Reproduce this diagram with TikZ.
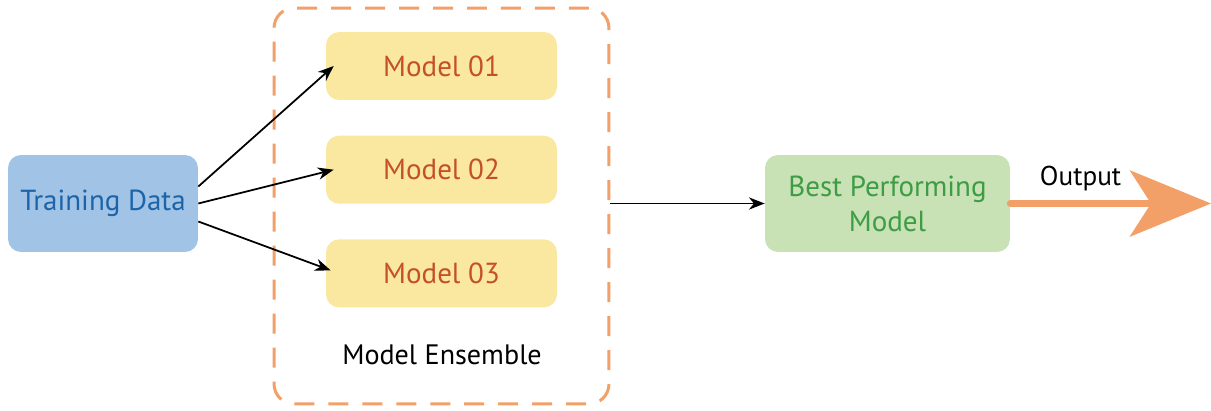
\documentclass[tikz,border=0pt]{standalone}
\usepackage{fontspec}
\setmainfont{PT Sans}
\usetikzlibrary{positioning,arrows.meta}

\definecolor{dataFill}{HTML}{A1C3E6}
\definecolor{dataText}{HTML}{1C64A8}
\definecolor{modelFill}{HTML}{FAE8A0}
\definecolor{modelText}{HTML}{C4502A}
\definecolor{bestFill}{HTML}{C8E1B5}
\definecolor{bestText}{HTML}{3D9C45}
\definecolor{ensOrange}{HTML}{F2A068}

\tikzset{
  box/.style={rounded corners=0.26cm, align=center, inner sep=2pt,
    font=\fontsize{16.5}{20}\selectfont},
  modelbox/.style={box, fill=modelFill, text=modelText,
    minimum width=4.62cm, minimum height=1.36cm},
}

\begin{document}
\begin{tikzpicture}[x=0.02cm, y=-0.02cm]

            \useasboundingbox (0,0) rectangle (1211,410);

            \node[box, fill=dataFill, text=dataText, minimum width=3.8cm, minimum height=1.94cm] (data) at (103,203.5) {Training Data};
            \node[modelbox] (m1) at (441.5,66) {Model 01};
            \node[modelbox, below=0.7cm of m1] (m2) {Model 02};
            \node[modelbox, below=0.7cm of m2] (m3) {Model 03};
            \node[draw=ensOrange, line width=1.7pt, dash pattern=on 0.4cm off 0.28cm, rounded corners=0.4cm, minimum width=6.7cm, minimum height=7.92cm] (ens) at (441.5,206) {};
            \node[font=\fontsize{16}{19}\selectfont] (enslabel) at (442,355) {Model Ensemble};
            \node[box, fill=bestFill, text=bestText, minimum width=4.9cm, minimum height=1.94cm] (best) at (887.5,203.5) {Best Performing\\Model};
            \coordinate (out) at (1211,203.5);

            \draw[-{Stealth[length=9pt,width=7pt]}, line width=1pt] ([yshift=0.34cm]data.east) -- ([xshift=0.16cm]m1.west);
            \draw[-{Stealth[length=9pt,width=7pt]}, line width=1pt] (data.east) -- ([xshift=0.16cm]m2.west);
            \draw[-{Stealth[length=9pt,width=7pt]}, line width=1pt] ([yshift=-0.36cm]data.east) -- ([xshift=0.1cm,yshift=0.06cm]m3.west);
            \draw[-{Stealth[length=9pt,width=7pt]}, line width=0.8pt] (ens.east |- best.west) -- (best.west);
            \draw[-{Stealth[length=1.62cm,width=1.32cm,inset=0.42cm]}, ensOrange, line width=0.14cm, line cap=round] (best.east) -- node[pos=0.35, above=2pt, text=black, font=\fontsize{15.5}{18}\selectfont] (outlabel) {Output} (out);

        \end{tikzpicture}
\end{document}
